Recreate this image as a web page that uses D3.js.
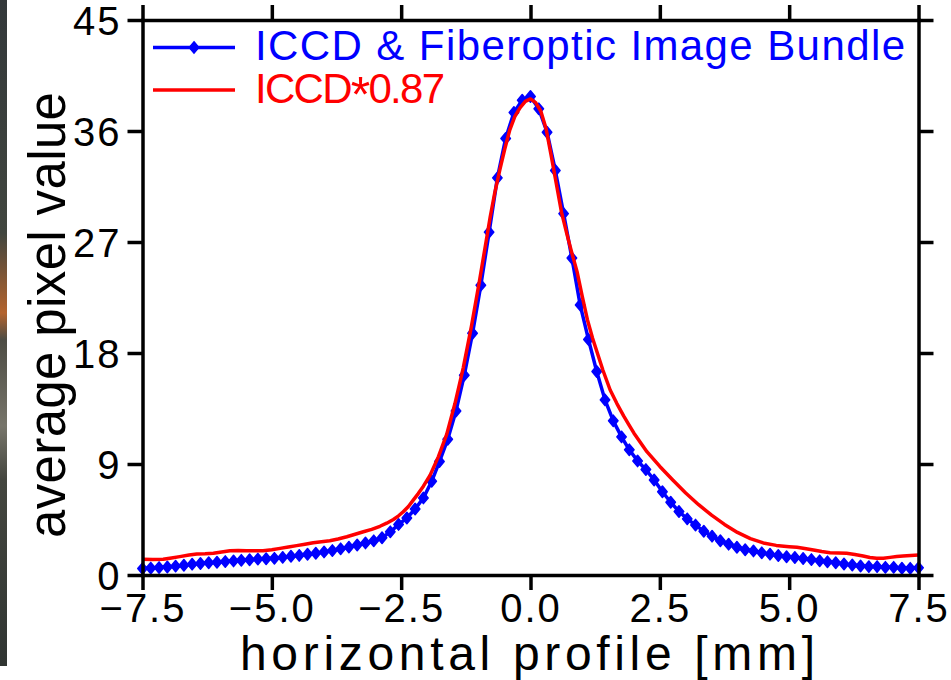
<!DOCTYPE html>
<html>
<head>
<meta charset="utf-8">
<script src="https://cdn.jsdelivr.net/npm/d3@7"></script>
<style>
  html, body { margin: 0; padding: 0; background: #ffffff; }
  svg { display: block; }
  text { font-family: "Liberation Sans", Arial, sans-serif; }
</style>
</head>
<body>
<svg id="chart" width="951" height="680"></svg>
<script>
// ---------------- data ----------------
const xTicks = [-7.5, -5.0, -2.5, 0.0, 2.5, 5.0, 7.5];
const yTicks = [0, 9, 18, 27, 36, 45];
const seriesNames = ["ICCD & Fiberoptic Image Bundle", "ICCD*0.87"];

// ICCD & Fiberoptic Image Bundle (blue, with markers)
const bundleX = [-7.50,-7.34,-7.18,-7.02,-6.86,-6.70,-6.54,-6.38,-6.22,-6.06,-5.90,-5.74,-5.59,-5.43,-5.27,-5.11,-4.95,-4.79,-4.63,-4.47,-4.31,-4.15,-3.99,-3.83,-3.67,-3.51,-3.35,-3.19,-3.03,-2.87,-2.71,-2.55,-2.39,-2.23,-2.07,-1.91,-1.76,-1.60,-1.44,-1.28,-1.12,-0.96,-0.80,-0.64,-0.48,-0.32,-0.16,0.00,0.16,0.32,0.48,0.64,0.80,0.96,1.12,1.28,1.44,1.60,1.76,1.91,2.07,2.23,2.39,2.55,2.71,2.87,3.03,3.19,3.35,3.51,3.67,3.83,3.99,4.15,4.31,4.47,4.63,4.79,4.95,5.11,5.27,5.43,5.59,5.74,5.90,6.06,6.22,6.38,6.54,6.70,6.86,7.02,7.18,7.34,7.50];
const bundleY = [0.52,0.56,0.60,0.65,0.72,0.79,0.88,0.93,0.99,1.03,1.09,1.14,1.19,1.24,1.29,1.32,1.35,1.43,1.52,1.59,1.68,1.76,1.87,1.98,2.12,2.26,2.43,2.60,2.77,3.02,3.50,4.10,4.62,5.35,6.25,7.60,9.20,11.0,13.3,16.2,19.6,23.5,27.8,32.2,35.4,37.5,38.5,38.8,37.8,35.9,32.8,29.3,25.7,21.9,19.1,16.5,14.2,12.5,11.2,10.15,9.25,8.55,7.70,6.75,5.90,5.15,4.55,4.05,3.55,3.15,2.78,2.50,2.25,2.05,1.95,1.80,1.69,1.58,1.48,1.42,1.34,1.25,1.15,1.07,0.99,0.89,0.81,0.73,0.68,0.68,0.62,0.62,0.55,0.54,0.58];

// ICCD*0.87 (red line)
const iccdX = [-7.50,-7.30,-7.10,-6.94,-6.78,-6.60,-6.45,-6.29,-6.13,-5.97,-5.81,-5.65,-5.49,-5.33,-5.17,-5.00,-4.84,-4.68,-4.52,-4.36,-4.20,-4.04,-3.88,-3.72,-3.55,-3.39,-3.23,-3.07,-2.91,-2.78,-2.65,-2.55,-2.46,-2.36,-2.27,-2.17,-2.07,-1.94,-1.78,-1.62,-1.46,-1.30,-1.14,-0.98,-0.88,-0.78,-0.69,-0.59,-0.50,-0.40,-0.30,-0.20,-0.10,0.00,0.10,0.20,0.30,0.40,0.50,0.60,0.70,0.80,0.90,1.00,1.10,1.20,1.30,1.40,1.54,1.67,1.80,1.90,2.00,2.25,2.50,2.75,3.00,3.25,3.50,3.75,4.00,4.25,4.50,4.75,5.00,5.15,5.30,5.47,5.63,5.79,5.95,6.11,6.27,6.43,6.56,6.69,6.82,6.95,7.08,7.20,7.35,7.50];
const iccdY = [1.27,1.26,1.28,1.38,1.49,1.62,1.70,1.72,1.76,1.86,1.97,1.98,1.97,1.96,1.97,2.05,2.16,2.27,2.38,2.50,2.62,2.70,2.78,2.92,3.10,3.30,3.51,3.70,3.95,4.20,4.50,4.80,5.13,5.55,6.05,6.60,7.20,8.10,9.60,11.4,13.9,16.8,20.2,24.0,26.5,29.0,31.0,32.9,34.5,36.1,37.2,37.9,38.4,38.6,38.3,37.6,36.2,34.0,31.7,29.4,27.7,26.1,24.6,22.6,20.7,19.2,17.9,16.6,15.0,13.9,12.9,12.2,11.5,10.0,8.8,7.7,6.65,5.7,4.85,4.1,3.45,2.95,2.6,2.4,2.3,2.25,2.15,2.03,1.9,1.81,1.78,1.76,1.66,1.54,1.42,1.35,1.36,1.43,1.50,1.54,1.58,1.62];

// ---------------- chart ----------------
const svg = d3.select("#chart");
const plot = { left: 142.5, right: 918.5, top: 20, bottom: 575 };

const x = d3.scaleLinear().domain([-7.5, 7.5]).range([plot.left, plot.right]);
const y = d3.scaleLinear().domain([0, 45]).range([plot.bottom, plot.top]);

const BLUE = "#0000ff", RED = "#ff0000";

// dark photographic strip on the far left edge (crop artifact)
const grad = svg.append("defs").append("linearGradient")
  .attr("id", "stripGrad").attr("x1", 0).attr("y1", 0).attr("x2", 0).attr("y2", 1);
[["0%", "#33383a"], ["35%", "#41463f"], ["47%", "#b4642e"], ["51%", "#4d4c44"], ["64%", "#77756a"], ["72%", "#44463f"], ["100%", "#303532"]]
  .forEach(([o, c]) => grad.append("stop").attr("offset", o).attr("stop-color", c));
svg.append("rect").attr("x", 0).attr("y", 0).attr("width", 7).attr("height", 666).attr("fill", "url(#stripGrad)");

// data lines
const lineGen = d3.line().x(d => x(d[0])).y(d => y(d[1]));
const bundle = bundleX.map((v, i) => [v, bundleY[i]]);
const iccd = iccdX.map((v, i) => [v, iccdY[i]]);

svg.append("path").datum(bundle).attr("d", lineGen)
  .attr("fill", "none").attr("stroke", BLUE).attr("stroke-width", 3.5).attr("stroke-linejoin", "round");

const diamond = { draw(ctx, size) { const r = Math.sqrt(size) / 2; ctx.moveTo(0, -r * 1.2); ctx.lineTo(r, 0); ctx.lineTo(0, r * 1.2); ctx.lineTo(-r, 0); ctx.closePath(); } };
const sym = d3.symbol().type(diamond).size(90);
svg.append("g").selectAll("path").data(bundle).join("path")
  .attr("d", sym).attr("transform", d => `translate(${x(d[0])},${y(d[1])})`)
  .attr("fill", BLUE).attr("stroke", BLUE).attr("stroke-width", 1.5).attr("stroke-linejoin", "round");

svg.append("path").datum(iccd).attr("d", lineGen)
  .attr("fill", "none").attr("stroke", RED).attr("stroke-width", 3.5).attr("stroke-linejoin", "round");

// axes
const fmtX = d3.format(".1f");
function styleAxis(g) {
  g.select(".domain").attr("stroke", "#000").attr("stroke-width", 3.5).attr("stroke-linecap", "square");
  g.selectAll(".tick line").attr("stroke", "#000").attr("stroke-width", 3.5);
  g.selectAll(".tick text").attr("fill", "#000").attr("font-size", 40)
    .attr("font-family", '"Liberation Sans", Arial, sans-serif').attr("letter-spacing", 2);
}
svg.append("g").attr("transform", `translate(0,${plot.bottom})`)
  .call(d3.axisBottom(x).tickValues(xTicks).tickSize(15).tickSizeOuter(0).tickPadding(4).tickFormat(fmtX))
  .call(styleAxis);
svg.append("g").attr("transform", `translate(0,${plot.top})`)
  .call(d3.axisTop(x).tickValues(xTicks).tickSize(15).tickSizeOuter(0).tickFormat(""))
  .call(styleAxis);
svg.append("g").attr("transform", `translate(${plot.left},0)`)
  .call(d3.axisLeft(y).tickValues(yTicks).tickSize(15).tickSizeOuter(0).tickPadding(6).tickFormat(d3.format("d")))
  .call(styleAxis)
  .call(g => g.selectAll(".tick text").attr("dy", "0.36em"));
svg.append("g").attr("transform", `translate(${plot.right},0)`)
  .call(d3.axisRight(y).tickValues(yTicks).tickSize(15).tickSizeOuter(0).tickFormat(""))
  .call(styleAxis);

// axis titles
svg.append("text").attr("x", 240).attr("y", 670)
  .attr("font-size", 48).attr("fill", "#000")
  .attr("textLength", 575).attr("lengthAdjust", "spacing")
  .text("horizontal profile [mm]");
svg.append("text").attr("transform", "translate(65,538) rotate(-90)")
  .attr("font-size", 51).attr("fill", "#000")
  .attr("textLength", 446).attr("lengthAdjust", "spacing")
  .text("average pixel value");

// legend
const leg = svg.append("g");
leg.append("line").attr("x1", 153).attr("x2", 235).attr("y1", 47.5).attr("y2", 47.5)
  .attr("stroke", BLUE).attr("stroke-width", 3.5);
leg.append("path").attr("d", sym).attr("transform", "translate(194,47.5)")
  .attr("fill", BLUE).attr("stroke", BLUE).attr("stroke-width", 1.5);
leg.append("text").attr("x", 255).attr("y", 60).attr("font-size", 42).attr("fill", BLUE)
  .attr("textLength", 650).attr("lengthAdjust", "spacing").text(seriesNames[0]);
leg.append("line").attr("x1", 153).attr("x2", 235).attr("y1", 90).attr("y2", 90)
  .attr("stroke", RED).attr("stroke-width", 3.5);
const t2 = leg.append("text").attr("x", 255).attr("y", 103).attr("font-size", 42).attr("fill", RED)
  .attr("textLength", 190).attr("lengthAdjust", "spacing");
t2.append("tspan").text("ICCD");
t2.append("tspan").attr("font-size", 50).attr("dy", 9).text("*");
t2.append("tspan").attr("dy", -9).text("0.87");
</script>
</body>
</html>
